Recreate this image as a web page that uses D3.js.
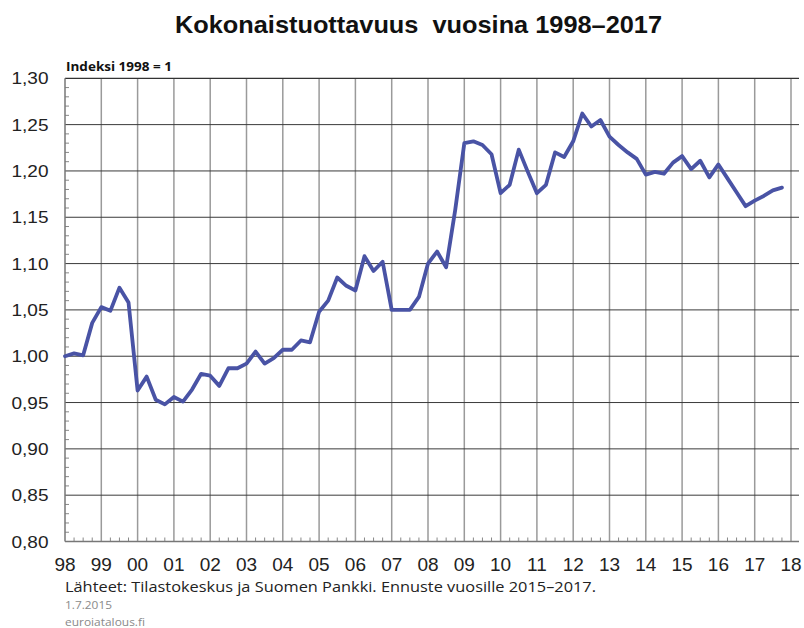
<!DOCTYPE html>
<html><head><meta charset="utf-8">
<script src="https://cdn.jsdelivr.net/npm/d3@7"></script>
<style>body{margin:0;background:#fff}svg{display:block}</style>
</head><body>
<svg id="c" width="804" height="628"></svg>
<script>
const yearLabels = ["98","99","00","01","02","03","04","05","06","07","08","09","10","11","12","13","14","15","16","17","18"];
const yTicks = [0.80,0.85,0.90,0.95,1.00,1.05,1.10,1.15,1.20,1.25,1.30];
const productivity = [
 1.000,1.003,1.001,1.036, 1.053,1.049,1.074,1.058, 0.963,0.978,0.953,0.948,
 0.956,0.951,0.964,0.981, 0.979,0.968,0.987,0.987, 0.992,1.005,0.992,0.998,
 1.007,1.007,1.017,1.015, 1.048,1.060,1.085,1.076, 1.071,1.108,1.092,1.102,
 1.050,1.050,1.050,1.064, 1.100,1.113,1.096,1.158, 1.230,1.232,1.228,1.218,
 1.176,1.185,1.223,1.199, 1.176,1.185,1.220,1.215, 1.232,1.262,1.248,1.255,
 1.237,1.228,1.220,1.213, 1.196,1.199,1.197,1.209, 1.216,1.202,1.211,1.193,
 1.207,1.192,1.177,1.162, 1.168,1.173,1.179,1.182
];
const title = "Kokonaistuottavuus  vuosina 1998–2017";
const unitLabel = "Indeksi 1998 = 1";
const source = "Lähteet: Tilastokeskus ja Suomen Pankki. Ennuste vuosille 2015–2017.";
const dateText = "1.7.2015";
const siteText = "euroiatalous.fi";

const svg = d3.select("#c");
const L = 65, R = 799, T = 78.3, B = 541.5;
const x = d3.scaleLinear().domain([1998, 2018.25]).range([L, L + 20.25*36.3]);
const y = d3.scaleLinear().domain([0.80, 1.30]).range([B, T]);
const fmt = v => d3.format(".2f")(v).replace(".", ",");

// vertical gridlines
const yearTicks = d3.range(1999, 2019);
svg.append("g").selectAll("line").data(yearTicks).join("line")
  .attr("x1", d => x(d)).attr("x2", d => x(d)).attr("y1", T).attr("y2", B)
  .attr("stroke", "#9a9a9a").attr("stroke-width", 1.5);
// horizontal gridlines
svg.append("g").selectAll("line").data(yTicks.slice(1, -1)).join("line")
  .attr("x1", L).attr("x2", R).attr("y1", d => y(d)).attr("y2", d => y(d))
  .attr("stroke", "#3a3a3a").attr("stroke-width", 1);

// minor ticks y
const yMinor = d3.range(81, 130).filter(v => v % 5 !== 0).map(v => v / 100);
svg.append("g").selectAll("line").data(yMinor).join("line")
  .attr("x1", L).attr("x2", L + 4).attr("y1", d => y(d)).attr("y2", d => y(d))
  .attr("stroke", "#888").attr("stroke-width", 1);
// minor ticks x (quarters)
const xMinor = d3.range(0, 81).filter(i => i % 4 !== 0).map(i => 1998 + i / 4);
svg.append("g").selectAll("line").data(xMinor).join("line")
  .attr("x1", d => x(d)).attr("x2", d => x(d)).attr("y1", B).attr("y2", B - 4)
  .attr("stroke", "#888").attr("stroke-width", 1);

// frame
svg.append("line").attr("x1", L).attr("x2", R).attr("y1", T).attr("y2", T).attr("stroke", "#333").attr("stroke-width", 1.2);
svg.append("line").attr("x1", L).attr("x2", R).attr("y1", B).attr("y2", B).attr("stroke", "#777").attr("stroke-width", 1.5);
svg.append("line").attr("x1", L).attr("x2", L).attr("y1", T).attr("y2", B).attr("stroke", "#777").attr("stroke-width", 1.5);

// y labels
svg.append("g").selectAll("text").data(yTicks).join("text")
  .attr("x", 48.5).attr("y", d => y(d) + 6).attr("text-anchor", "end")
  .attr("font-family", "Liberation Sans, Arial, sans-serif").attr("font-size", 16.5).attr("fill", "#222")
  .attr("textLength", 37).attr("lengthAdjust", "spacingAndGlyphs")
  .text(fmt);
// x labels
svg.append("g").selectAll("text").data(yearLabels).join("text")
  .attr("x", (d, i) => x(1998 + i)).attr("y", 571).attr("text-anchor", "middle")
  .attr("font-family", "Liberation Sans, Arial, sans-serif").attr("font-size", 19).attr("fill", "#222")
  .text(d => d);

// line
const pts = productivity.map((v, i) => [1998 + i / 4, v]);
svg.append("path").datum(pts)
  .attr("fill", "none").attr("stroke", "#4953a5").attr("stroke-width", 3.8)
  .attr("stroke-linejoin", "round").attr("stroke-linecap", "round")
  .attr("d", d3.line().x(d => x(d[0])).y(d => y(d[1])));

// texts
svg.append("text").attr("x", 175).attr("y", 33)
  .attr("font-family", "Liberation Sans, Arial, sans-serif").attr("font-weight", "bold").attr("font-size", 24.5)
  .attr("textLength", 487).attr("lengthAdjust", "spacingAndGlyphs")
  .attr("fill", "#111").style("white-space", "pre").text(title);
svg.append("text").attr("x", 66).attr("y", 71)
  .attr("font-family", "Open Sans, sans-serif").attr("font-weight", "bold").attr("font-size", 13)
  .attr("textLength", 106).attr("lengthAdjust", "spacingAndGlyphs")
  .attr("fill", "#111").text(unitLabel);
svg.append("text").attr("x", 65).attr("y", 592)
  .attr("font-family", "Open Sans, sans-serif").attr("font-size", 15)
  .attr("textLength", 531).attr("lengthAdjust", "spacingAndGlyphs")
  .attr("fill", "#222").text(source);
svg.append("text").attr("x", 65).attr("y", 609)
  .attr("font-family", "Open Sans, sans-serif").attr("font-size", 11)
  .attr("textLength", 47).attr("lengthAdjust", "spacingAndGlyphs")
  .attr("fill", "#8a8a8a").text(dateText);
svg.append("text").attr("x", 65).attr("y", 625.5)
  .attr("font-family", "Open Sans, sans-serif").attr("font-size", 11)
  .attr("textLength", 80).attr("lengthAdjust", "spacingAndGlyphs")
  .attr("fill", "#8a8a8a").text(siteText);
</script>
</body></html>
